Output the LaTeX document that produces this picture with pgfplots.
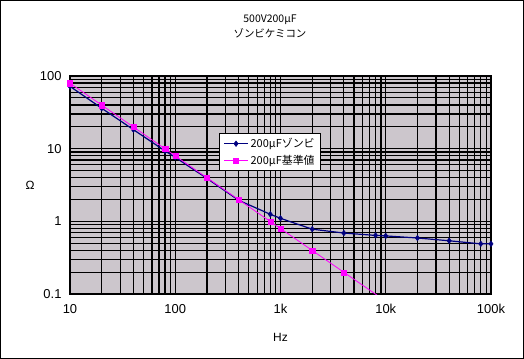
\documentclass[border=0pt]{standalone}
\usepackage{pgfplots}
\pgfplotsset{compat=1.18}
\usepackage{fontspec}
\setmainfont{Liberation Sans}
\newfontfamily\jp{Noto Sans CJK JP}
\definecolor{bg}{RGB}{204,198,204}
\definecolor{navyb}{RGB}{0,0,128}
\definecolor{mag}{RGB}{255,0,255}
\begin{document}
\begin{tikzpicture}
\draw[line width=1bp] (0.5bp,0.5bp) rectangle (523.5bp,358.5bp);
\node[font=\jp\fontsize{10.5}{15}\selectfont, align=center] at (270bp,333bp) {500V200μF\\ゾンビケミコン};
\begin{axis}[
  at={(70bp,65bp)}, anchor=south west,
  scale only axis, width=421bp, height=218bp,
  xmode=log, ymode=log,
  xmin=10, xmax=100000, ymin=0.1, ymax=100,
  axis background/.style={fill=bg},
  grid=both,
  major grid style={black, line width=1.2bp},
  minor grid style={black, line width=1.2bp},
  axis line style={black, line width=1.2bp},
  major tick length=0pt, minor tick length=0pt,
  xtick={10,100,1000,10000,100000},
  xticklabels={10,100,1k,10k,100k},
  ytick={0.1,1,10,100},
  yticklabels={0.1,1,10,100},
  tick label style={font=\fontsize{13}{15}\selectfont},
  yticklabel style={xshift=-5bp},
  xticklabel style={yshift=-7bp},
  xlabel={Hz}, ylabel={Ω},
  label style={font=\fontsize{12}{14}\selectfont},
  xlabel style={at={(rel axis cs:0.5,0)}, anchor=center, yshift=-43bp},
  ylabel style={at={(rel axis cs:0,0.5)}, anchor=center, rotate=-90, xshift=-40bp, yshift=0bp},
  legend style={at={(rel axis cs:0.354,0.739)}, anchor=north west, draw=black, fill=white,
    font=\jp\fontsize{11}{12}\selectfont, row sep=2bp, inner xsep=4bp, inner ysep=3bp, line width=0.8bp},
  legend image code/.code={\draw[mark repeat=2,mark phase=2] plot coordinates {(0bp,0bp)(12bp,0bp)(24bp,0bp)};},
  legend cell align=left,
]
\addplot[navyb, line width=1.2bp, mark=diamond*, mark size=2.8bp, mark options={fill=navyb, line width=0.5bp}] coordinates {
(10,72)(20,36)(40,18.3)(80,9.3)(100,7.6)(200,3.9)(400,1.95)(800,1.25)(1000,1.1)
(2000,0.78)(4000,0.69)(8000,0.64)(10000,0.63)(20000,0.59)(40000,0.54)(80000,0.49)(100000,0.49)};
\addlegendentry{200μFゾンビ}
\addplot[mag, line width=0.8bp, mark=square*, mark size=2.6bp, mark options={fill=mag, line width=0.3bp}] coordinates {
(10,79.6)(20,39.8)(40,19.9)(80,9.95)(100,7.96)(200,3.98)(400,1.99)(800,0.995)(1000,0.796)(2000,0.398)(4000,0.199)};
\addlegendentry{200μF基準値}
\addplot[mag, line width=0.8bp, forget plot] coordinates {(4000,0.199)(8000,0.0995)(10000,0.0796)};
\end{axis}
\end{tikzpicture}
\end{document}
